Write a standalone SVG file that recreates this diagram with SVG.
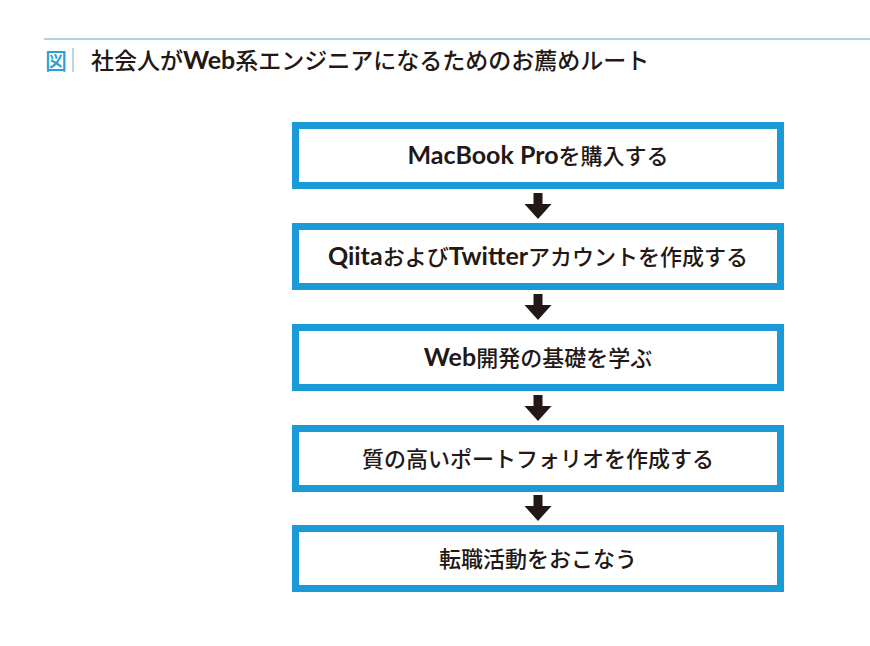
<svg xmlns="http://www.w3.org/2000/svg" width="870" height="646" viewBox="0 0 870 646">
<style>
.box{fill:#ffffff;stroke:#1a9bd7;stroke-width:7}
.lbl{font-family:"Noto Sans CJK JP","Noto Sans",sans-serif;font-size:22px;font-weight:500;fill:#231815;text-anchor:middle}
.lat{font-family:"Lato","Noto Sans",sans-serif;font-size:25px;font-weight:700}
.ttl{font-family:"Noto Sans CJK JP",sans-serif;font-size:23px;font-weight:500;fill:#231815}
.arr{fill:#231815}
</style>
<rect width="870" height="646" fill="#ffffff"/>
<g id="title">
<line x1="44" y1="39" x2="870" y2="39" stroke="#8fc9d3" stroke-width="1.5"/>
<text x="45" y="69" font-family="Noto Sans CJK JP,sans-serif" font-size="22" font-weight="500" fill="#2a9fd6">図</text>
<line x1="73" y1="48" x2="73" y2="72" stroke="#a9c4d0" stroke-width="1.5"/>
<text class="ttl" x="91" y="69">社会人が<tspan font-family="Lato,sans-serif" font-weight="700" font-size="25">Web</tspan>系エンジニアになるためのお薦めルート</text>
</g>
<g id="connectors">
<path class="arr" d="M533.5 193 H542.5 V204 H551.5 L538 219 L524.5 204 H533.5 Z"/>
<path class="arr" d="M533.5 294 H542.5 V305 H551.5 L538 320 L524.5 305 H533.5 Z"/>
<path class="arr" d="M533.5 395 H542.5 V406 H551.5 L538 421 L524.5 406 H533.5 Z"/>
<path class="arr" d="M533.5 495 H542.5 V506 H551.5 L538 521 L524.5 506 H533.5 Z"/>
</g>
<g id="node1">
<rect class="box" x="295.5" y="125.5" width="485" height="60"/>
<text class="lbl" x="538" y="164"><tspan class="lat">MacBook Pro</tspan>を購入する</text>
</g>
<g id="node2">
<rect class="box" x="295.5" y="226.5" width="485" height="60"/>
<text class="lbl" x="538" y="265"><tspan class="lat">Qiita</tspan>および<tspan class="lat">Twitter</tspan>アカウントを作成する</text>
</g>
<g id="node3">
<rect class="box" x="295.5" y="327.5" width="485" height="60"/>
<text class="lbl" x="538" y="366"><tspan class="lat">Web</tspan>開発の基礎を学ぶ</text>
</g>
<g id="node4">
<rect class="box" x="295.5" y="428.5" width="485" height="60"/>
<text class="lbl" x="538" y="467">質の高いポートフォリオを作成する</text>
</g>
<g id="node5">
<rect class="box" x="295.5" y="528.5" width="485" height="60"/>
<text class="lbl" x="538" y="567">転職活動をおこなう</text>
</g>
</svg>
